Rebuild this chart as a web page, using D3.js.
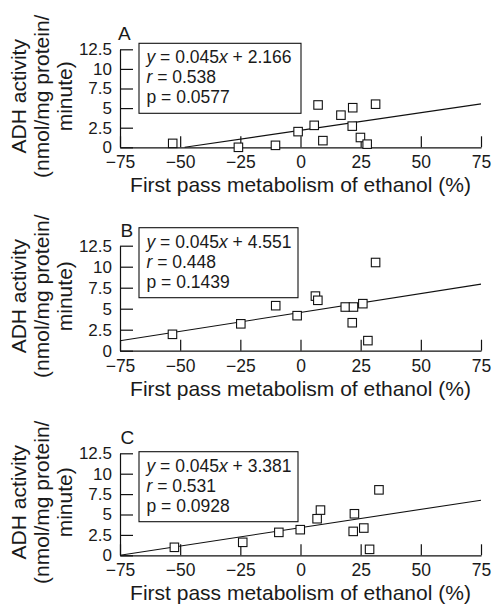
<!DOCTYPE html>
<html>
<head>
<meta charset="utf-8">
<script src="https://cdn.jsdelivr.net/npm/d3@7"></script>
<style>
  html, body { margin: 0; padding: 0; background: #fff; }
  svg { display: block; }
  text { font-family: "Liberation Sans", Arial, Helvetica, sans-serif; fill: #1a1a1a; }
</style>
</head>
<body>
<svg id="chart" width="492" height="604"></svg>
<script>
// ---------------- DATA ----------------
const xTicks = [-75, -50, -25, 0, 25, 50, 75];
const xTickLabels = ["\u221275", "\u221250", "\u221225", "0", "25", "50", "75"];
const yTicks = [0, 2.5, 5, 7.5, 10, 12.5];
const yTickLabels = ["0", "2.5", "5", "7.5", "10", "12.5"];

const panelLetters = ["A", "B", "C"];
const slopes = [0.045, 0.045, 0.045];
const intercepts = [2.166, 4.551, 3.381];
const interceptLabels = ["2.166", "4.551", "3.381"];
const slopeLabels = ["0.045", "0.045", "0.045"];
const rLabels = ["0.538", "0.448", "0.531"];
const pLabels = ["0.0577", "0.1439", "0.0928"];

const xTitle = "First pass metabolism of ethanol (%)";
const yTitleLines = ["ADH activity", "(nmol/mg protein/", "minute)"];

// Panel A
const fpmA = [-53.1, -25.8, -10.4, -1.0, 5.7, 7.3, 9.3, 16.8, 21.7, 21.5, 24.9, 27.7, 31.2];
const adhA = [0.5, 0.0, 0.25, 2.0, 2.8, 5.4, 0.85, 4.1, 5.05, 2.7, 1.25, 0.4, 5.5];
// Panel B
const fpmB = [-53.2, -24.8, -10.3, -1.4, 6.2, 7.2, 18.6, 22.0, 21.5, 25.9, 28.0, 31.2];
const adhB = [1.95, 3.2, 5.36, 4.17, 6.5, 6.0, 5.2, 5.2, 3.33, 5.6, 1.2, 10.5];
// Panel C
const fpmC = [-52.4, -24.0, -9.0, -0.1, 6.9, 8.3, 22.4, 21.9, 26.3, 28.7, 32.6];
const adhC = [0.98, 1.59, 2.81, 3.14, 4.48, 5.54, 5.09, 2.93, 3.34, 0.73, 8.02];

const panelX = [fpmA, fpmB, fpmC];
const panelY = [adhA, adhB, adhC];

// ---------------- LAYOUT ----------------
const plotLeft = 120, plotRight = 481;
const layout = [
  { top: 49.3,  bottom: 147.3, box: [139, 43.3, 301, 113.3],  letter: [118, 40] },
  { top: 245.7, bottom: 350.7, box: [139, 227.7, 298, 297.7], letter: [120.5, 237] },
  { top: 453.3, bottom: 555.3, box: [139, 451.7, 298, 521.7], letter: [120.5, 444] }
];

const svg = d3.select("#chart");
const xDomain = [xTicks[0], xTicks[xTicks.length - 1]];
const yDomain = [yTicks[0], yTicks[yTicks.length - 1]];

layout.forEach((L, i) => {
  const x = d3.scaleLinear().domain(xDomain).range([plotLeft, plotRight]);
  const y = d3.scaleLinear().domain(yDomain).range([L.bottom, L.top]);
  const g = svg.append("g");

  // x axis (ticks pointing up)
  const xAxis = d3.axisBottom(x)
    .tickValues(xTicks)
    .tickFormat((d, j) => xTickLabels[j])
    .tickSizeInner(-11)
    .tickSizeOuter(0)
    .tickPadding(8.5);
  const gx = g.append("g").attr("transform", `translate(0,${L.bottom})`).call(xAxis);
  gx.selectAll("text").style("font-size", "17.5px").style("font-family", "'Liberation Sans', Arial, sans-serif").attr("fill", "#1a1a1a");
  gx.selectAll("line, path").attr("stroke", "#111").attr("stroke-width", 1.2);

  // y axis (ticks pointing right)
  const yAxis = d3.axisLeft(y)
    .tickValues(yTicks)
    .tickFormat((d, j) => yTickLabels[j])
    .tickSizeInner(-13)
    .tickSizeOuter(0)
    .tickPadding(8);
  const gy = g.append("g").attr("transform", `translate(${plotLeft},0)`).call(yAxis);
  gy.selectAll("text").style("font-size", "17px").style("font-family", "'Liberation Sans', Arial, sans-serif").attr("fill", "#1a1a1a");
  gy.selectAll("line, path").attr("stroke", "#111").attr("stroke-width", 1.2);

  // regression line
  const x0 = Math.max(xDomain[0], -intercepts[i] / slopes[i]);
  const x1 = xDomain[1];
  const lineData = [[x0, slopes[i] * x0 + intercepts[i]], [x1, slopes[i] * x1 + intercepts[i]]];
  g.append("path")
    .attr("d", d3.line().x(d => x(d[0])).y(d => y(d[1]))(lineData))
    .attr("stroke", "#111").attr("stroke-width", 1.1).attr("fill", "none");

  // points
  const pts = panelX[i].map((v, k) => [v, panelY[i][k]]);
  const s = 8.5;
  g.selectAll("rect.pt").data(pts).enter().append("rect")
    .attr("class", "pt")
    .attr("x", d => x(d[0]) - s / 2)
    .attr("y", d => y(d[1]) - s / 2)
    .attr("width", s).attr("height", s)
    .attr("fill", "#fff").attr("stroke", "#111").attr("stroke-width", 1.1);

  // stats box
  const [bx0, by0, bx1, by1] = L.box;
  g.append("rect").attr("x", bx0).attr("y", by0).attr("width", bx1 - bx0).attr("height", by1 - by0)
    .attr("fill", "#fff").attr("stroke", "#111").attr("stroke-width", 1.1);
  const tx = bx0 + 7.5;
  const t1 = g.append("text").attr("x", tx).attr("y", by0 + 20).style("font-size", "17.5px");
  t1.append("tspan").style("font-style", "italic").text("y");
  t1.append("tspan").text(" = " + slopeLabels[i]);
  t1.append("tspan").style("font-style", "italic").text("x");
  t1.append("tspan").text(" + " + interceptLabels[i]);
  const t2 = g.append("text").attr("x", tx).attr("y", by0 + 40).style("font-size", "17.5px");
  t2.append("tspan").style("font-style", "italic").text("r");
  t2.append("tspan").text(" = " + rLabels[i]);
  g.append("text").attr("x", tx).attr("y", by0 + 60).style("font-size", "17.5px")
    .text("p = " + pLabels[i]);

  // panel letter
  g.append("text").attr("x", L.letter[0]).attr("y", L.letter[1]).style("font-size", "19px").text(panelLetters[i]);

  // x title
  g.append("text").attr("x", x(0)).attr("y", L.bottom + 45).attr("text-anchor", "middle")
    .style("font-size", "21px").text(xTitle);

  // y title
  const cy = (L.top + L.bottom) / 2 - 2;
  const gt = g.append("g").attr("transform", `translate(0,${cy}) rotate(-90)`);
  const baselines = [26, 49, 72];
  yTitleLines.forEach((t, k) => {
    gt.append("text").attr("x", 0).attr("y", baselines[k]).attr("text-anchor", "middle")
      .style("font-size", "21px").text(t);
  });
});
</script>
</body>
</html>
